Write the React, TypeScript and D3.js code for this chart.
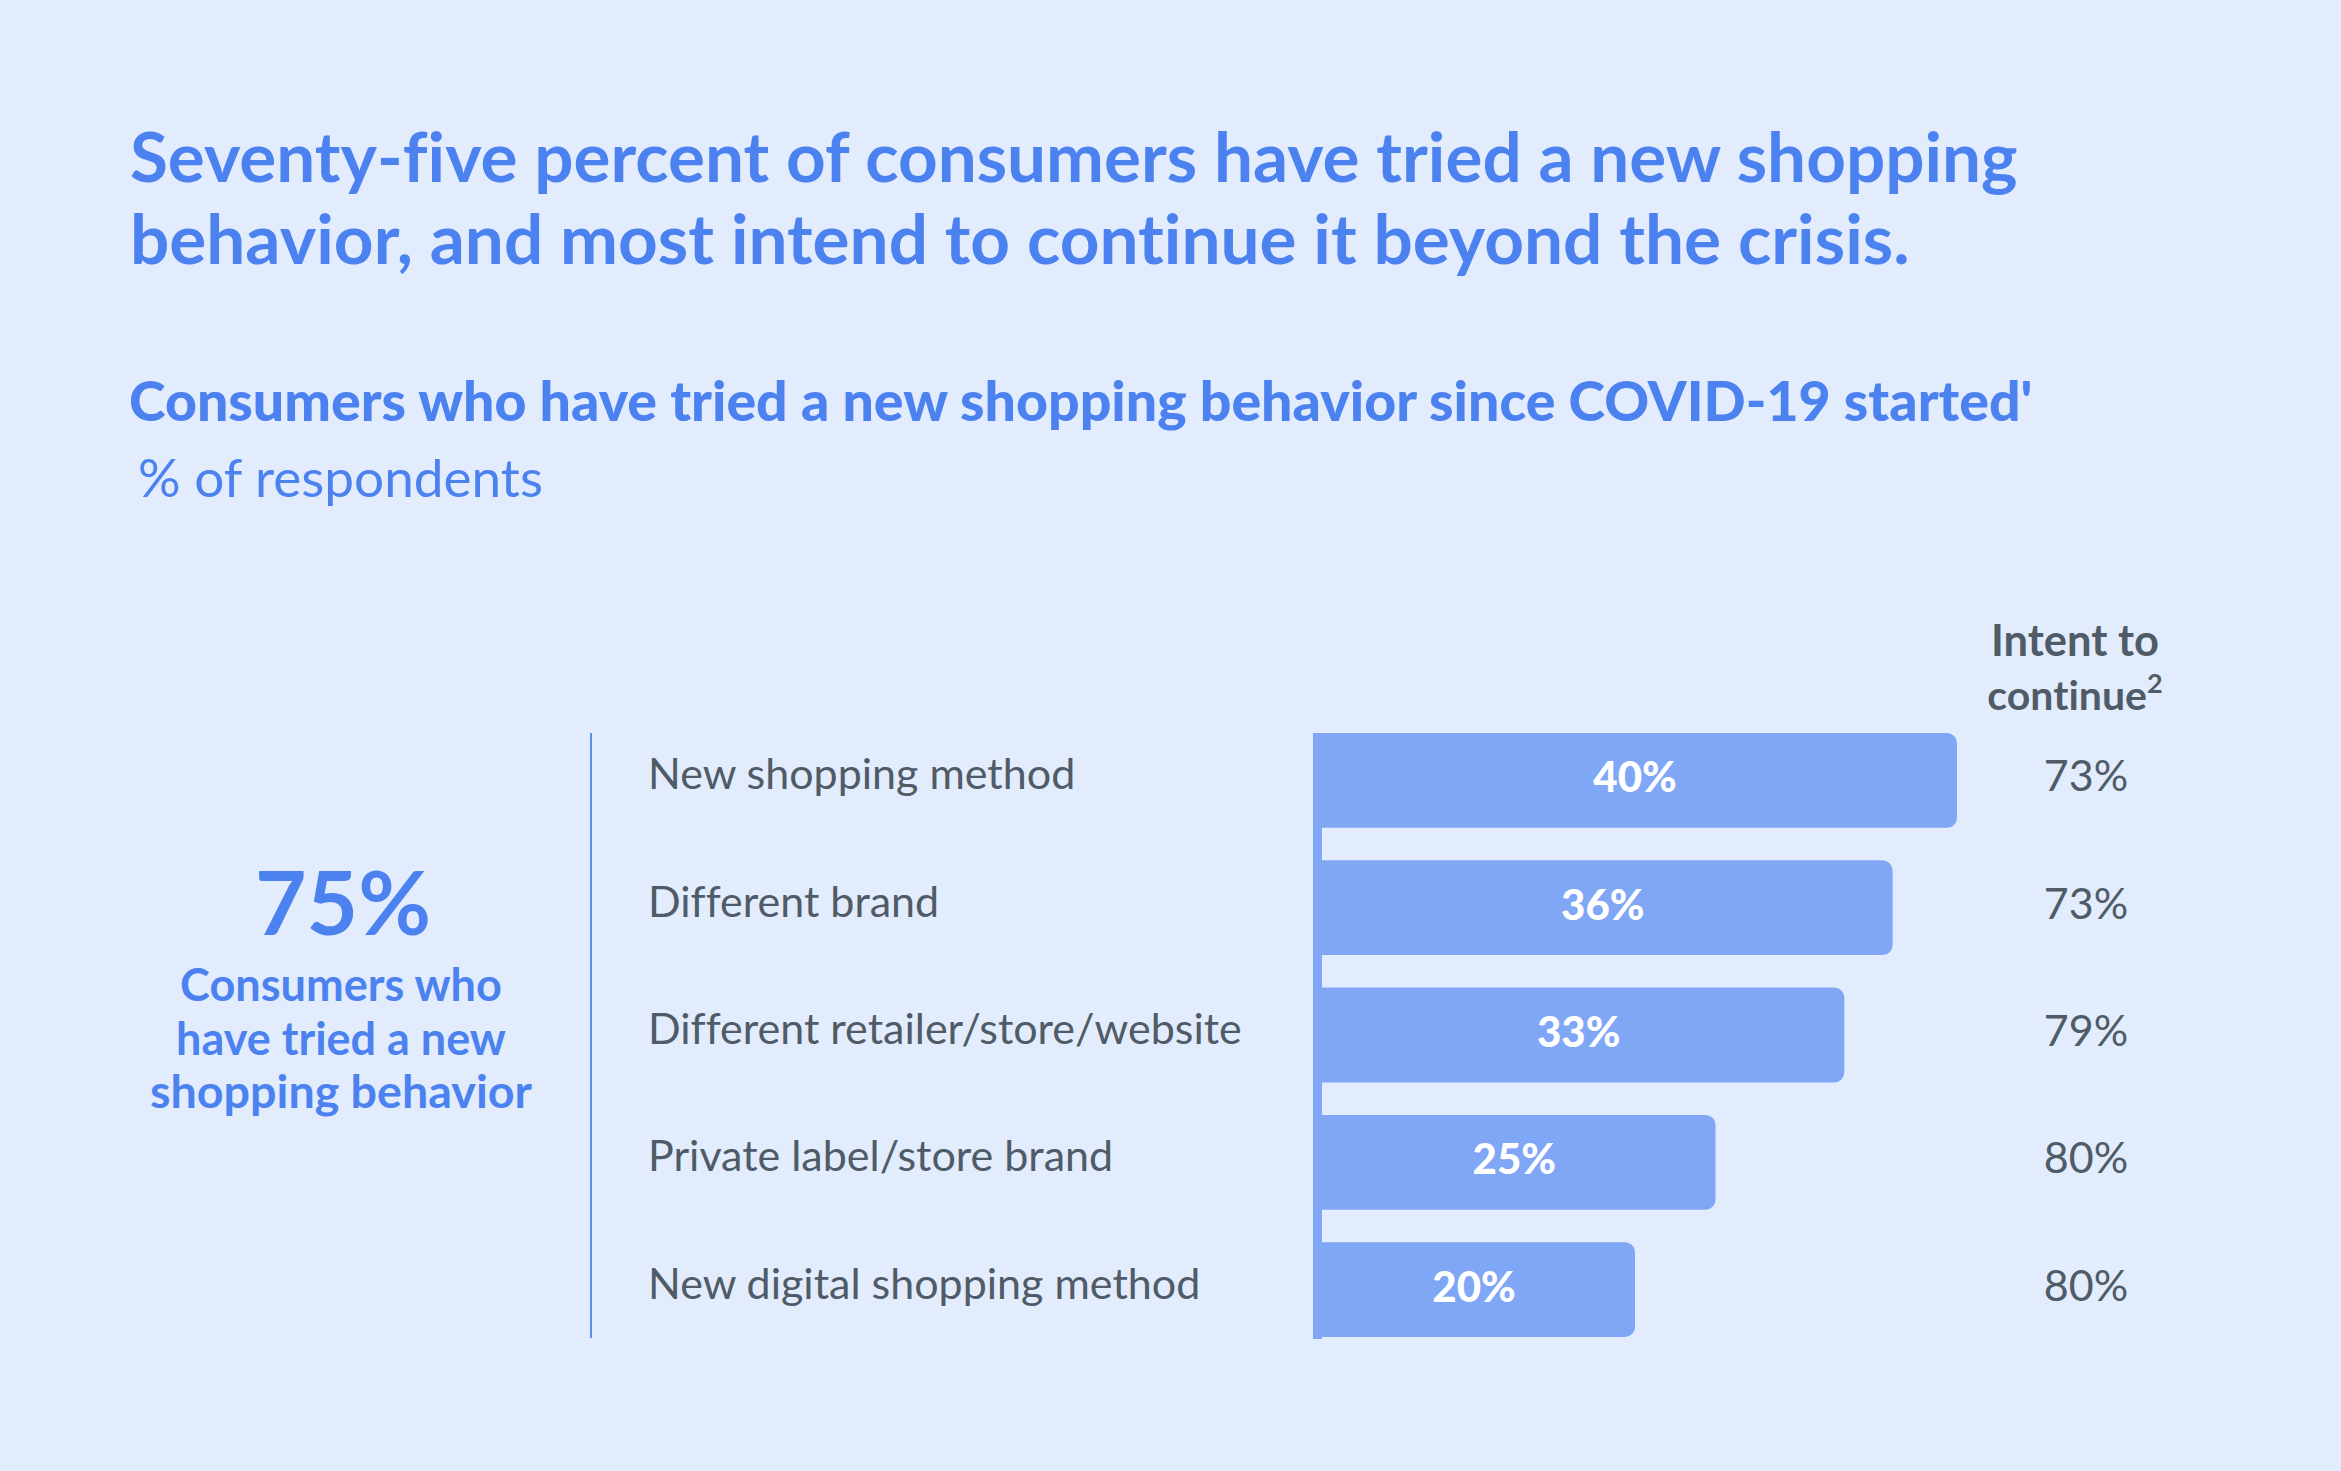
import React, { useEffect, useRef } from "react";
import * as d3 from "d3";

const categories = [
  "New shopping method",
  "Different brand",
  "Different retailer/store/website",
  "Private label/store brand",
  "New digital shopping method",
];
const triedValues = [40, 36, 33, 25, 20];
const intentValues = [73, 73, 79, 80, 80];
const titleLines = [
  "Seventy-five percent of consumers have tried a new shopping",
  "behavior, and most intend to continue it beyond the crisis.",
];
const subtitle = "Consumers who have tried a new shopping behavior since COVID-19 started'";
const unitLabel = "% of respondents";
const headlineValue = "75%";
const headlineLines = ["Consumers who", "have tried a new", "shopping behavior"];

const W = 2341;
const H = 1471;
const BG = "#e2ecfc";
const BLUE = "#4c82f0";
const BAR = "#80a6f6";
const GRAY = "#4f5b66";
const FONT = "Lato, 'Open Sans', sans-serif";
const headlineWidths = [322, 330, 382];

export default function App() {
  const ref = useRef<SVGSVGElement>(null);

  const x = d3.scaleLinear().domain([0, 40]).range([1313, 1957]);
  const y = d3
    .scaleBand<string>()
    .domain(categories)
    .range([733, 1337])
    .paddingInner(0.255)
    .paddingOuter(0);
  const bw = y.bandwidth();

  useEffect(() => {
    if (!ref.current) return;
    d3.select(ref.current)
      .selectAll<SVGTextElement, unknown>("text[data-w]")
      .each(function () {
        const el = this;
        const target = +(el.getAttribute("data-w") || 0);
        const fs = parseFloat(el.getAttribute("font-size") || "10");
        const w = el.getComputedTextLength();
        if (w > 0 && target > 0) {
          el.setAttribute("font-size", String((fs * target) / w));
        }
      });
  }, []);

  const barPath = (x0: number, x1: number, y0: number, h: number, r: number) => {
    const p = d3.path();
    p.moveTo(x0, y0);
    p.lineTo(x1 - r, y0);
    p.arcTo(x1, y0, x1, y0 + r, r);
    p.lineTo(x1, y0 + h - r);
    p.arcTo(x1, y0 + h, x1 - r, y0 + h, r);
    p.lineTo(x0, y0 + h);
    p.closePath();
    return p.toString();
  };

  const yTop = y(categories[0]) as number;
  const yBottom = (y(categories[categories.length - 1]) as number) + bw;

  return (
    <svg
      ref={ref}
      width={W}
      height={H}
      style={{ position: "absolute", left: 0, top: 0, display: "block", fontVariantLigatures: "none" }}
      fontFamily={FONT}
    >
      <rect x={0} y={0} width={W} height={H} fill={BG} />

      {/* Title */}
      <text x={130} y={182} fill={BLUE} fontWeight={700} font-size={68} data-w={1888}>
        {titleLines[0]}
      </text>
      <text x={130} y={264} fill={BLUE} fontWeight={700} font-size={68} data-w={1780}>
        {titleLines[1]}
      </text>

      {/* Subtitle */}
      <text x={129} y={421} fill={BLUE} fontWeight={900} font-size={53} data-w={1904}>
        {subtitle}
      </text>
      <text x={138} y={497} fill={BLUE} fontWeight={400} font-size={50} data-w={405}>
        {unitLabel}
      </text>

      {/* Left headline */}
      <text x={343} y={935} fill={BLUE} fontWeight={700} font-size={85} textAnchor="middle" data-w={176}>
        {headlineValue}
      </text>
      {headlineLines.map((t, i) => (
        <text
          key={t}
          x={341}
          y={1001 + i * 53.5}
          fill={BLUE}
          fontWeight={700}
          font-size={42}
          textAnchor="middle"
          data-w={headlineWidths[i]}
        >
          {t}
        </text>
      ))}

      {/* Separator line */}
      <line x1={591} x2={591} y1={yTop} y2={yBottom + 1} stroke="#5b8cf0" strokeWidth={2} />

      {/* Intent header */}
      <text x={2075} y={656} fill={GRAY} fontWeight={700} font-size={40} textAnchor="middle" data-w={168}>
        Intent to
      </text>
      <text x={2075} y={710} fill={GRAY} fontWeight={700} font-size={41} textAnchor="middle">
        continue
        <tspan dy={-17} font-size={27}>
          2
        </tspan>
      </text>

      {/* Axis strip */}
      <rect x={x(0)} y={yTop} width={9} height={yBottom - yTop + 2} fill={BAR} />

      {categories.map((c, i) => {
        const y0 = y(c) as number;
        const cy = y0 + bw / 2;
        const v = triedValues[i];
        return (
          <g key={c}>
            <text x={648} y={cy + 9} fill={GRAY} fontWeight={400} font-size={43}>
              {c}
            </text>
            <path d={barPath(x(0), x(v), y0, bw, 10)} fill={BAR} />
            <text
              x={(x(0) + x(v)) / 2}
              y={cy + 12}
              fill="#ffffff"
              fontWeight={900}
              font-size={42}
              textAnchor="middle"
            >
              {`${v}%`}
            </text>
            <text x={2086} y={cy + 11} fill={GRAY} fontWeight={400} font-size={43} textAnchor="middle">
              {`${intentValues[i]}%`}
            </text>
          </g>
        );
      })}
    </svg>
  );
}
